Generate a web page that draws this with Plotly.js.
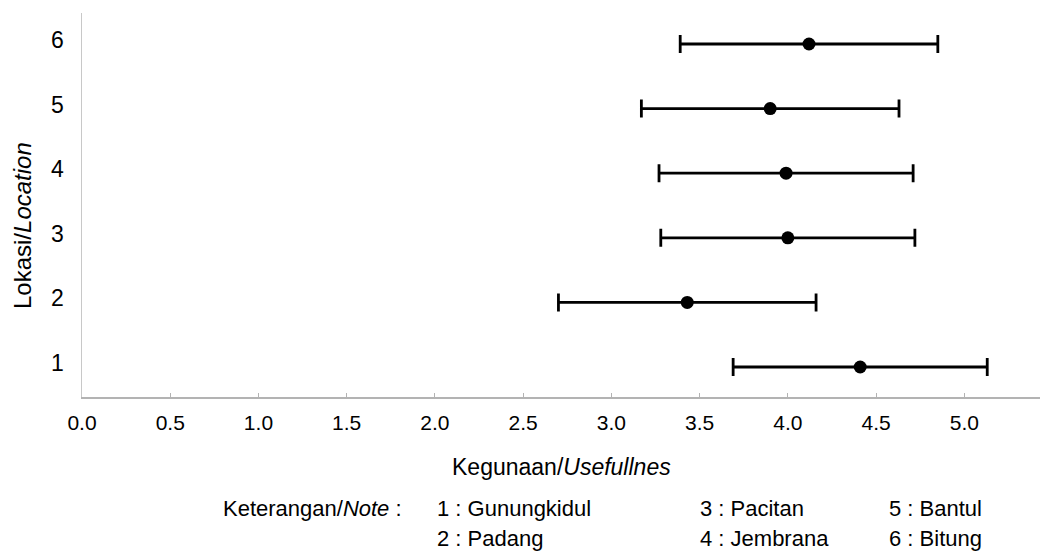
<!DOCTYPE html>
<html>
<head>
<meta charset="utf-8">
<script src="https://cdn.plot.ly/plotly-3.0.1.min.js"></script>
<style>html,body{margin:0;padding:0;background:#fff;}#chart{width:1040px;height:555px;}</style>
</head>
<body>
<div id="chart"></div>
<script>
// Data
const locations = [1, 2, 3, 4, 5, 6];
const usefulnessMean = [4.41, 3.43, 4.00, 3.99, 3.90, 4.12];
const usefulnessErr = [0.72, 0.73, 0.72, 0.72, 0.73, 0.73];
const xTickVals = [0, 0.5, 1, 1.5, 2, 2.5, 3, 3.5, 4, 4.5, 5];
const xTickText = ['0.0','0.5','1.0','1.5','2.0','2.5','3.0','3.5','4.0','4.5','5.0'];
const yTickVals = [1, 2, 3, 4, 5, 6];
const noteLabel = 'Keterangan/<i>Note</i> :';
const noteItems = ['1 : Gunungkidul','2 : Padang','3 : Pacitan','4 : Jembrana','5 : Bantul','6 : Bitung'];
const xTitle = 'Kegunaan/<i>Usefullnes</i>';
const yTitle = 'Lokasi/<i>Location</i>';

// Layout geometry (pixels)
const W = 1040, H = 555;
const L = 82, R = 0, T = 13, B = 158;
const PW = W - L - R, PH = H - T - B;
const px2x = p => (p - L) / PW;
const px2y = p => (H - B - p) / PH;
const FONT = 'Liberation Sans, Arial, sans-serif';

const trace = {
  type: 'scatter',
  mode: 'markers',
  x: usefulnessMean,
  y: locations,
  marker: {color: '#000', size: 13, symbol: 'circle'},
  error_x: {type: 'data', array: usefulnessErr, visible: true, color: '#000', thickness: 2.8, width: 9},
  hoverinfo: 'x+y'
};

// note positions: columns by pixel x, rows by pixel y
const noteCols = [435, 698, 887];
const noteRows = [508, 538];
const annotations = [
  {text: xTitle, x: px2x(561), y: px2y(467), xref: 'paper', yref: 'paper', xanchor: 'center', yanchor: 'middle', showarrow: false, font: {family: FONT, size: 23, color: '#000'}},
  {text: yTitle, x: px2x(22), y: px2y(226), xref: 'paper', yref: 'paper', xanchor: 'center', yanchor: 'middle', textangle: -90, showarrow: false, font: {family: FONT, size: 24, color: '#000'}},
  {text: noteLabel, x: px2x(221), y: px2y(noteRows[0]), xref: 'paper', yref: 'paper', xanchor: 'left', yanchor: 'middle', showarrow: false, font: {family: FONT, size: 22, color: '#000'}}
];
noteItems.forEach((t, i) => {
  annotations.push({text: t, x: px2x(noteCols[Math.floor(i / 2)]), y: px2y(noteRows[i % 2]), xref: 'paper', yref: 'paper', xanchor: 'left', yanchor: 'middle', showarrow: false, font: {family: FONT, size: 22, color: '#000'}});
});

const layout = {
  width: W, height: H,
  margin: {l: L, r: R, t: T, b: B, pad: 0},
  paper_bgcolor: '#fff', plot_bgcolor: '#fff',
  showlegend: false,
  font: {family: FONT, color: '#000'},
  xaxis: {
    range: [0, 5.429], tickvals: xTickVals, ticktext: xTickText,
    showgrid: false, zeroline: false, showline: true, linecolor: '#b3b3b3', linewidth: 1.5,
    ticks: 'inside', ticklen: 4, tickcolor: '#b3b3b3', tickwidth: 1,
    tickfont: {family: FONT, size: 21, color: '#000'}, ticklabelstandoff: 6
  },
  yaxis: {
    range: [0.536, 6.48], tickvals: yTickVals,
    showgrid: false, zeroline: false, showline: true, linecolor: '#c8c8c8', linewidth: 1.5,
    ticks: '', tickfont: {family: FONT, size: 23, color: '#000'}, ticklabelstandoff: 12, ticklabelshift: -4
  },
  annotations: annotations
};

Plotly.newPlot('chart', [trace], layout, {displayModeBar: false, staticPlot: true});
</script>
</body>
</html>
